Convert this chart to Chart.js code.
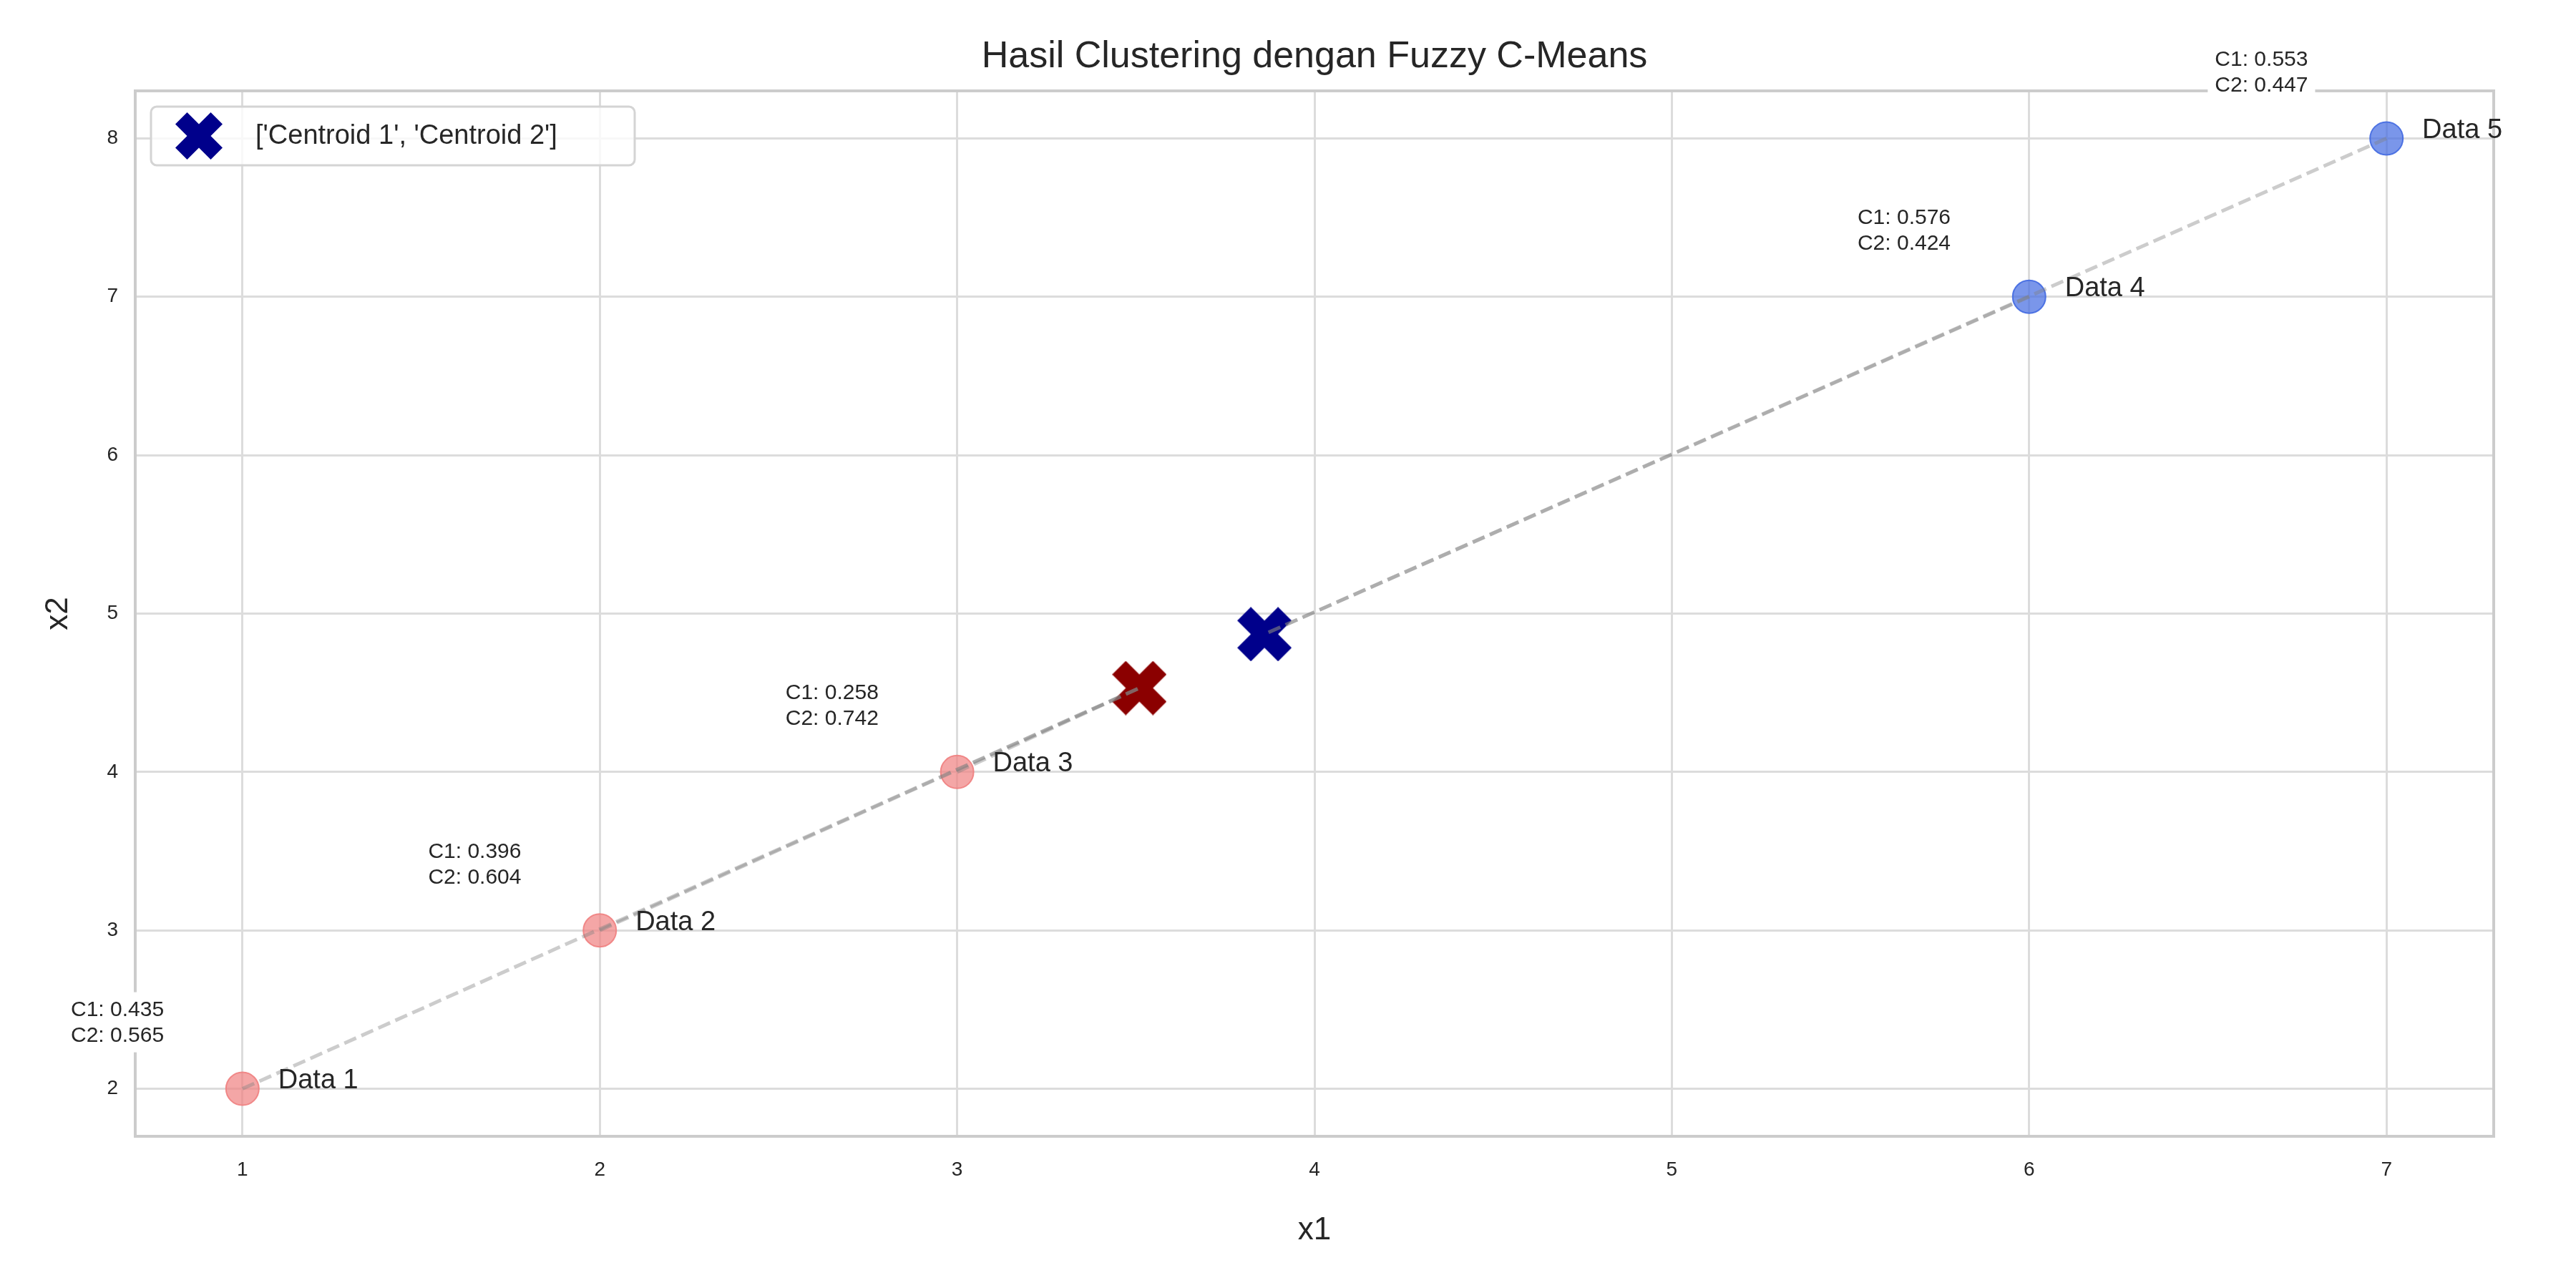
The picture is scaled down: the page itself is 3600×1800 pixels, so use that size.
<!DOCTYPE html>
<html>
<head>
<meta charset="utf-8">
<script src="https://cdn.jsdelivr.net/npm/chart.js@4"></script>
<style>body{margin:0;background:#fff}#wrap{width:3600px;height:1800px}</style>
</head>
<body>
<div id="wrap"><canvas id="fcmChart" width="3600" height="1800"></canvas></div>
<script>
// Data
const dataNames = ['Data 1', 'Data 2', 'Data 3', 'Data 4', 'Data 5'];
const x1 = [1, 2, 3, 6, 7];
const x2 = [2, 3, 4, 7, 8];
const memberC1 = [0.435, 0.396, 0.258, 0.576, 0.553];
const memberC2 = [0.565, 0.604, 0.742, 0.424, 0.447];
const cluster = [1, 1, 1, 0, 0]; // index into centroids
const centroidX = [3.86, 3.51];
const centroidY = [4.87, 4.53];
const centroidColors = ['#00008b', '#8b0000'];

const FONT = 'Liberation Sans, Arial, sans-serif';

// filled X marker for centroids
function makeX(color, s) {
    const c = document.createElement('canvas');
    c.width = s; c.height = s;
    const g = c.getContext('2d');
    const a = s * 0.25, h = s / 2;
    g.fillStyle = color;
    g.beginPath();
    g.moveTo(a, 0); g.lineTo(h, h - a); g.lineTo(s - a, 0); g.lineTo(s, a);
    g.lineTo(h + a, h); g.lineTo(s, s - a); g.lineTo(s - a, s); g.lineTo(h, h + a);
    g.lineTo(a, s); g.lineTo(0, s - a); g.lineTo(h - a, h); g.lineTo(0, a);
    g.closePath(); g.fill();
    return c;
}

const datasets = [];
// lines from each point to its centroid
x1.forEach((x, i) => {
    const k = cluster[i];
    datasets.push({
        type: 'line',
        data: [{x: x, y: x2[i]}, {x: centroidX[k], y: centroidY[k]}],
        borderColor: 'rgba(128,128,128,0.4)',
        borderWidth: 5,
        borderDash: [18, 8],
        pointRadius: 0,
        fill: false
    });
});
datasets.push({
    label: 'points',
    data: x1.map((x, i) => ({x: x, y: x2[i]})),
    backgroundColor: cluster.map(k => k === 1 ? 'rgba(240,128,128,0.7)' : 'rgba(65,105,225,0.7)'),
    borderColor: cluster.map(k => k === 1 ? 'rgba(240,128,128,0.9)' : 'rgba(65,105,225,0.9)'),
    borderWidth: 2,
    pointRadius: 23
});
datasets.push({
    label: 'centroids',
    data: centroidX.map((x, i) => ({x: x, y: centroidY[i]})),
    pointStyle: centroidColors.map(c => makeX(c, 76))
});

const labelPlugin = {
    id: 'labels',
    afterDatasetsDraw(chart) {
        const g = chart.ctx, sx = chart.scales.x, sy = chart.scales.y;
        const a = chart.chartArea;
        g.save();
        // frame
        g.strokeStyle = '#cccccc'; g.lineWidth = 4;
        g.strokeRect(a.left, a.top, a.right - a.left, a.bottom - a.top);
        g.fillStyle = '#262626';
        g.textBaseline = 'middle';
        g.font = '38px ' + FONT;
        g.textAlign = 'left';
        dataNames.forEach((n, i) => {
            g.fillText(n, sx.getPixelForValue(x1[i] + 0.1), sy.getPixelForValue(x2[i] + 0.05));
        });
        g.font = '30px ' + FONT;
        dataNames.forEach((n, i) => {
            const cx = sx.getPixelForValue(x1[i] - 0.35);
            const cy = sy.getPixelForValue(x2[i] + 0.42);
            const l1 = 'C1: ' + memberC1[i].toFixed(3), l2 = 'C2: ' + memberC2[i].toFixed(3);
            const w = Math.max(g.measureText(l1).width, g.measureText(l2).width);
            g.fillStyle = '#fff';
            g.fillRect(cx - w / 2 - 10, cy - 42, w + 20, 84);
            g.fillStyle = '#262626';
            g.textAlign = 'left';
            g.fillText(l1, cx - w / 2, cy - 17);
            g.fillText(l2, cx - w / 2, cy + 19);
        });
        // title and axis titles
        g.font = '52px ' + FONT;
        g.textAlign = 'center';
        g.fillText('Hasil Clustering dengan Fuzzy C-Means', (a.left + a.right) / 2, 80);
        g.font = '44px ' + FONT;
        g.fillText('x1', (a.left + a.right) / 2, 1720);
        g.save();
        g.translate(82, (a.top + a.bottom) / 2);
        g.rotate(-Math.PI / 2);
        g.fillText('x2', 0, 0);
        g.restore();
        // legend
        g.strokeStyle = '#d4d4d4'; g.lineWidth = 3;
        g.fillStyle = 'rgba(255,255,255,0.8)';
        g.beginPath(); g.roundRect(a.left + 22, a.top + 22, 676, 82, 8); g.fill(); g.stroke();
        g.drawImage(makeX('#00008b', 66), a.left + 56, a.top + 30);
        g.fillStyle = '#262626';
        g.font = '38px ' + FONT;
        g.textAlign = 'left';
        g.fillText("['Centroid 1', 'Centroid 2']", a.left + 168, a.top + 64);
        g.restore();
    }
};

const tickFont = {family: FONT, size: 28};
const chart = new Chart(document.getElementById('fcmChart').getContext('2d'), {
    type: 'scatter',
    data: {datasets: datasets},
    options: {
        responsive: false,
        animation: false,
        devicePixelRatio: 1,
        layout: {padding: {top: 127, right: 115, left: 0, bottom: 0}},
        plugins: {legend: {display: false}, tooltip: {enabled: false}, title: {display: false}},
        scales: {
            x: {
                min: 0.7, max: 7.3,
                afterFit: s => { s.height = 212; },
                ticks: {stepSize: 1, font: tickFont, color: '#262626', padding: 30,
                    callback: v => Number.isInteger(v) ? v : ''},
                grid: {color: '#dcdcdc', lineWidth: 3, tickLength: 0},
                border: {display: false}
            },
            y: {
                min: 1.7, max: 8.3,
                afterFit: s => { s.width = 189; },
                ticks: {stepSize: 1, font: tickFont, color: '#262626', padding: 24,
                    callback: v => Number.isInteger(v) ? v : ''},
                grid: {color: '#dcdcdc', lineWidth: 3, tickLength: 0},
                border: {display: false}
            }
        }
    },
    plugins: [labelPlugin]
});
</script>
</body>
</html>
